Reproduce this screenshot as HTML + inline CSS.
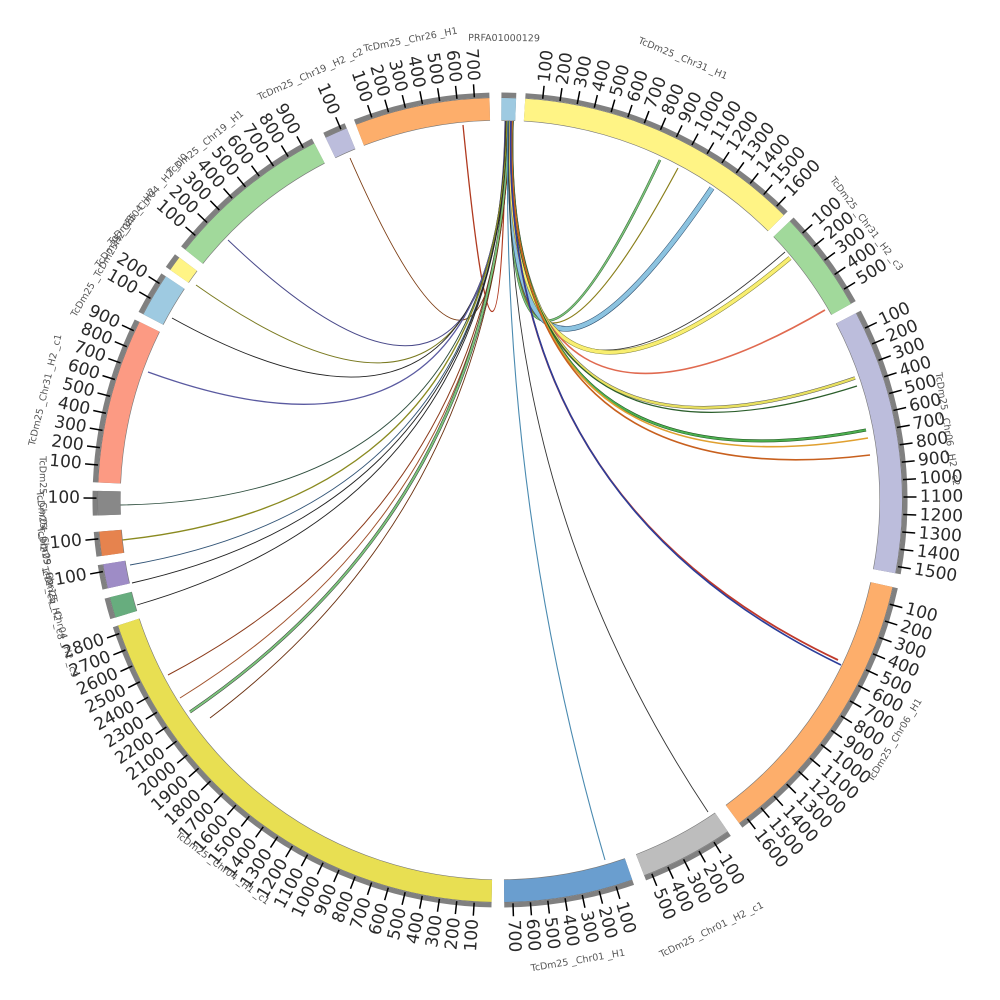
<!DOCTYPE html>
<html><head><meta charset="utf-8"><style>
html,body{margin:0;padding:0;background:#fff;width:1000px;height:1000px;overflow:hidden}
svg{display:block}
.t{font-family:"DejaVu Sans","Liberation Sans",sans-serif;font-size:17px;fill:#2a2a2a;dominant-baseline:central}
.r{text-anchor:start}.l{text-anchor:end}
.n{font-family:"DejaVu Sans","Liberation Sans",sans-serif;font-size:9.5px;fill:#555;text-anchor:middle}
.b{fill:none;stroke-width:22}
.o{fill:none;stroke:#777;stroke-width:23.2}
.g{fill:none;stroke:#808080;stroke-width:5}
.k{fill:none;stroke:#000;stroke-width:13}
.rb{fill:none}
</style></head><body>
<svg width="1000" height="1000" viewBox="0 0 1000 1000" xmlns="http://www.w3.org/2000/svg">
<rect width="1000" height="1000" fill="#fff"/>
<g class="rb" stroke-linecap="butt">
<path d="M506 121 Q500 500 463 125" stroke="#b03a20" stroke-width="1.3"/>
<path d="M505 121 Q500 500 350 158" stroke="#7a3a10" stroke-width="0.9"/>
<path d="M505 121 Q500 500 228 240" stroke="#4a4a8a" stroke-width="1"/>
<path d="M506 121 Q500 500 196 285" stroke="#7a7a20" stroke-width="1"/>
<path d="M506 121 Q500 500 172 318" stroke="#222" stroke-width="0.9"/>
<path d="M507 121 Q500 500 148 372" stroke="#5a5aa0" stroke-width="1.3"/>
<path d="M507 121 Q500 500 120 505" stroke="#2f4f3f" stroke-width="0.9"/>
<path d="M507 121 Q500 500 122 540" stroke="#8a8a20" stroke-width="1.3"/>
<path d="M508 121 Q500 500 130 565" stroke="#335577" stroke-width="0.9"/>
<path d="M508 121 Q500 500 132 583" stroke="#222" stroke-width="0.9"/>
<path d="M508 121 Q500 500 137 605" stroke="#222" stroke-width="0.9"/>
<path d="M509 121 Q500 500 168 675" stroke="#8b3a1a" stroke-width="1"/>
<path d="M509 121 Q500 500 180 698" stroke="#a0522d" stroke-width="1"/>
<path d="M509 121 Q500 500 190 712" stroke="#333" stroke-width="3"/>
<path d="M509 121 Q500 500 190 712" stroke="#7cc47c" stroke-width="2"/>
<path d="M510 121 Q500 500 210 718" stroke="#6b3010" stroke-width="0.9"/>
<path d="M510 121 Q500 500 660 160" stroke="#2e5e2e" stroke-width="2.6"/>
<path d="M510 121 Q500 500 660 160" stroke="#7cc47c" stroke-width="1.6"/>
<path d="M510 121 Q500 500 678 168" stroke="#8a7f1a" stroke-width="1.2"/>
<path d="M511 121 Q500 500 712 188" stroke="#2a4a6a" stroke-width="5.5"/>
<path d="M511 121 Q500 500 712 188" stroke="#8cc3e0" stroke-width="4.5"/>
<path d="M511 121 Q500 500 785 252" stroke="#333" stroke-width="0.9"/>
<path d="M511 121 Q500 500 790 258" stroke="#7a7a30" stroke-width="4.5"/>
<path d="M511 121 Q500 500 790 258" stroke="#f8ee70" stroke-width="3.5"/>
<path d="M512 121 Q500 500 825 310" stroke="#e06a50" stroke-width="1.6"/>
<path d="M512 121 Q500 500 855 378" stroke="#555" stroke-width="3.5"/>
<path d="M512 121 Q500 500 855 378" stroke="#e8e060" stroke-width="2.5"/>
<path d="M512 121 Q500 500 857 386" stroke="#2b5e2b" stroke-width="1.2"/>
<path d="M512 121 Q500 500 866 430" stroke="#1b4e1b" stroke-width="3"/>
<path d="M512 121 Q500 500 866 430" stroke="#4caf50" stroke-width="2"/>
<path d="M512 121 Q500 500 868 438" stroke="#e0a030" stroke-width="1.6"/>
<path d="M512 121 Q500 500 870 455" stroke="#c8601e" stroke-width="1.6"/>
<path d="M511 121 Q500 500 838 660" stroke="#c0392b" stroke-width="1.8"/>
<path d="M511 121 Q500 500 841 665" stroke="#2c3e9a" stroke-width="1.6"/>
<path d="M509 121 Q500 500 708 812" stroke="#333" stroke-width="0.9"/>
<path d="M508 121 Q500 500 605 860" stroke="#4a8ab0" stroke-width="1.1"/>
</g>
<g>
<circle class="o" cx="500" cy="500" r="391" transform="rotate(-89.8 500 500)" stroke-dasharray="14.33 3000"/>
<circle class="o" cx="500" cy="500" r="391" transform="rotate(-86.4 500 500)" stroke-dasharray="281.84 3000"/>
<circle class="o" cx="500" cy="500" r="391" transform="rotate(-43.9 500 500)" stroke-dasharray="100.32 3000"/>
<circle class="o" cx="500" cy="500" r="391" transform="rotate(-27.7 500 500)" stroke-dasharray="260.68 3000"/>
<circle class="o" cx="500" cy="500" r="391" transform="rotate(12.5 500 500)" stroke-dasharray="279.79 3000"/>
<circle class="o" cx="500" cy="500" r="391" transform="rotate(55.5 500 500)" stroke-dasharray="92.13 3000"/>
<circle class="o" cx="500" cy="500" r="391" transform="rotate(70.8 500 500)" stroke-dasharray="126.93 3000"/>
<circle class="o" cx="500" cy="500" r="391" transform="rotate(91.2 500 500)" stroke-dasharray="481.79 3000"/>
<circle class="o" cx="500" cy="500" r="391" transform="rotate(163 500 500)" stroke-dasharray="20.47 3000"/>
<circle class="o" cx="500" cy="500" r="391" transform="rotate(167.3 500 500)" stroke-dasharray="23.88 3000"/>
<circle class="o" cx="500" cy="500" r="391" transform="rotate(172 500 500)" stroke-dasharray="23.88 3000"/>
<circle class="o" cx="500" cy="500" r="391" transform="rotate(177.8 500 500)" stroke-dasharray="23.88 3000"/>
<circle class="o" cx="500" cy="500" r="391" transform="rotate(182.5 500 500)" stroke-dasharray="162.42 3000"/>
<circle class="o" cx="500" cy="500" r="391" transform="rotate(207.5 500 500)" stroke-dasharray="42.99 3000"/>
<circle class="o" cx="500" cy="500" r="391" transform="rotate(214.9 500 500)" stroke-dasharray="15.01 3000"/>
<circle class="o" cx="500" cy="500" r="391" transform="rotate(218.5 500 500)" stroke-dasharray="163.78 3000"/>
<circle class="o" cx="500" cy="500" r="391" transform="rotate(244.3 500 500)" stroke-dasharray="22.52 3000"/>
<circle class="o" cx="500" cy="500" r="391" transform="rotate(249 500 500)" stroke-dasharray="133.07 3000"/>
</g>
<g>
<circle class="b" stroke="#9ecae1" cx="500" cy="500" r="391" transform="rotate(-89.8 500 500)" stroke-dasharray="14.33 3000"/>
<circle class="b" stroke="#fff485" cx="500" cy="500" r="391" transform="rotate(-86.4 500 500)" stroke-dasharray="281.84 3000"/>
<circle class="b" stroke="#a1d99b" cx="500" cy="500" r="391" transform="rotate(-43.9 500 500)" stroke-dasharray="100.32 3000"/>
<circle class="b" stroke="#bcbddc" cx="500" cy="500" r="391" transform="rotate(-27.7 500 500)" stroke-dasharray="260.68 3000"/>
<circle class="b" stroke="#fdae6b" cx="500" cy="500" r="391" transform="rotate(12.5 500 500)" stroke-dasharray="279.79 3000"/>
<circle class="b" stroke="#bdbdbd" cx="500" cy="500" r="391" transform="rotate(55.5 500 500)" stroke-dasharray="92.13 3000"/>
<circle class="b" stroke="#6a9ecf" cx="500" cy="500" r="391" transform="rotate(70.8 500 500)" stroke-dasharray="126.93 3000"/>
<circle class="b" stroke="#e8df52" cx="500" cy="500" r="391" transform="rotate(91.2 500 500)" stroke-dasharray="481.79 3000"/>
<circle class="b" stroke="#67ad7e" cx="500" cy="500" r="391" transform="rotate(163 500 500)" stroke-dasharray="20.47 3000"/>
<circle class="b" stroke="#9e8cc6" cx="500" cy="500" r="391" transform="rotate(167.3 500 500)" stroke-dasharray="23.88 3000"/>
<circle class="b" stroke="#e6834e" cx="500" cy="500" r="391" transform="rotate(172 500 500)" stroke-dasharray="23.88 3000"/>
<circle class="b" stroke="#888888" cx="500" cy="500" r="391" transform="rotate(177.8 500 500)" stroke-dasharray="23.88 3000"/>
<circle class="b" stroke="#fc9a83" cx="500" cy="500" r="391" transform="rotate(182.5 500 500)" stroke-dasharray="162.42 3000"/>
<circle class="b" stroke="#9ecae1" cx="500" cy="500" r="391" transform="rotate(207.5 500 500)" stroke-dasharray="42.99 3000"/>
<circle class="b" stroke="#fff485" cx="500" cy="500" r="391" transform="rotate(214.9 500 500)" stroke-dasharray="15.01 3000"/>
<circle class="b" stroke="#a1d99b" cx="500" cy="500" r="391" transform="rotate(218.5 500 500)" stroke-dasharray="163.78 3000"/>
<circle class="b" stroke="#bcbddc" cx="500" cy="500" r="391" transform="rotate(244.3 500 500)" stroke-dasharray="22.52 3000"/>
<circle class="b" stroke="#fdae6b" cx="500" cy="500" r="391" transform="rotate(249 500 500)" stroke-dasharray="133.07 3000"/>
</g>
<g>
<circle class="g" cx="500" cy="500" r="405" transform="rotate(-89.8 500 500)" stroke-dasharray="14.84 3000"/>
<circle class="g" cx="500" cy="500" r="405" transform="rotate(-86.4 500 500)" stroke-dasharray="291.93 3000"/>
<circle class="g" cx="500" cy="500" r="405" transform="rotate(-43.9 500 500)" stroke-dasharray="103.91 3000"/>
<circle class="g" cx="500" cy="500" r="405" transform="rotate(-27.7 500 500)" stroke-dasharray="270.02 3000"/>
<circle class="g" cx="500" cy="500" r="405" transform="rotate(12.5 500 500)" stroke-dasharray="289.81 3000"/>
<circle class="g" cx="500" cy="500" r="405" transform="rotate(55.5 500 500)" stroke-dasharray="95.43 3000"/>
<circle class="g" cx="500" cy="500" r="405" transform="rotate(70.8 500 500)" stroke-dasharray="131.48 3000"/>
<circle class="g" cx="500" cy="500" r="405" transform="rotate(91.2 500 500)" stroke-dasharray="499.04 3000"/>
<circle class="g" cx="500" cy="500" r="405" transform="rotate(163 500 500)" stroke-dasharray="21.21 3000"/>
<circle class="g" cx="500" cy="500" r="405" transform="rotate(167.3 500 500)" stroke-dasharray="24.74 3000"/>
<circle class="g" cx="500" cy="500" r="405" transform="rotate(172 500 500)" stroke-dasharray="24.74 3000"/>
<circle class="g" cx="500" cy="500" r="405" transform="rotate(177.8 500 500)" stroke-dasharray="24.74 3000"/>
<circle class="g" cx="500" cy="500" r="405" transform="rotate(182.5 500 500)" stroke-dasharray="168.23 3000"/>
<circle class="g" cx="500" cy="500" r="405" transform="rotate(207.5 500 500)" stroke-dasharray="44.53 3000"/>
<circle class="g" cx="500" cy="500" r="405" transform="rotate(214.9 500 500)" stroke-dasharray="15.55 3000"/>
<circle class="g" cx="500" cy="500" r="405" transform="rotate(218.5 500 500)" stroke-dasharray="169.65 3000"/>
<circle class="g" cx="500" cy="500" r="405" transform="rotate(244.3 500 500)" stroke-dasharray="23.33 3000"/>
<circle class="g" cx="500" cy="500" r="405" transform="rotate(249 500 500)" stroke-dasharray="137.84 3000"/>
</g>
<g>
<circle class="k" cx="500" cy="500" r="410" transform="rotate(-84.03 500 500)" stroke-dasharray="1.5 16.25 1.5 16.25 1.5 16.25 1.5 16.25 1.5 16.25 1.5 16.25 1.5 16.25 1.5 16.25 1.5 16.25 1.5 16.25 1.5 16.25 1.5 16.25 1.5 16.25 1.5 16.25 1.5 16.25 1.5 3000"/>
<circle class="k" cx="500" cy="500" r="410" transform="rotate(-41.53 500 500)" stroke-dasharray="1.5 16.25 1.5 16.25 1.5 16.25 1.5 16.25 1.5 3000"/>
<circle class="k" cx="500" cy="500" r="410" transform="rotate(-25.33 500 500)" stroke-dasharray="1.5 16.25 1.5 16.25 1.5 16.25 1.5 16.25 1.5 16.25 1.5 16.25 1.5 16.25 1.5 16.25 1.5 16.25 1.5 16.25 1.5 16.25 1.5 16.25 1.5 16.25 1.5 16.25 1.5 3000"/>
<circle class="k" cx="500" cy="500" r="410" transform="rotate(14.87 500 500)" stroke-dasharray="1.5 16.25 1.5 16.25 1.5 16.25 1.5 16.25 1.5 16.25 1.5 16.25 1.5 16.25 1.5 16.25 1.5 16.25 1.5 16.25 1.5 16.25 1.5 16.25 1.5 16.25 1.5 16.25 1.5 16.25 1.5 3000"/>
<circle class="k" cx="500" cy="500" r="410" transform="rotate(57.87 500 500)" stroke-dasharray="1.5 16.25 1.5 16.25 1.5 16.25 1.5 16.25 1.5 3000"/>
<circle class="k" cx="500" cy="500" r="410" transform="rotate(73.17 500 500)" stroke-dasharray="1.5 16.25 1.5 16.25 1.5 16.25 1.5 16.25 1.5 16.25 1.5 16.25 1.5 3000"/>
<circle class="k" cx="500" cy="500" r="410" transform="rotate(93.57 500 500)" stroke-dasharray="1.5 16.25 1.5 16.25 1.5 16.25 1.5 16.25 1.5 16.25 1.5 16.25 1.5 16.25 1.5 16.25 1.5 16.25 1.5 16.25 1.5 16.25 1.5 16.25 1.5 16.25 1.5 16.25 1.5 16.25 1.5 16.25 1.5 16.25 1.5 16.25 1.5 16.25 1.5 16.25 1.5 16.25 1.5 16.25 1.5 16.25 1.5 16.25 1.5 16.25 1.5 16.25 1.5 16.25 1.5 3000"/>
<circle class="k" cx="500" cy="500" r="410" transform="rotate(169.67 500 500)" stroke-dasharray="1.5 3000"/>
<circle class="k" cx="500" cy="500" r="410" transform="rotate(174.37 500 500)" stroke-dasharray="1.5 3000"/>
<circle class="k" cx="500" cy="500" r="410" transform="rotate(180.17 500 500)" stroke-dasharray="1.5 3000"/>
<circle class="k" cx="500" cy="500" r="410" transform="rotate(184.87 500 500)" stroke-dasharray="1.5 16.25 1.5 16.25 1.5 16.25 1.5 16.25 1.5 16.25 1.5 16.25 1.5 16.25 1.5 16.25 1.5 3000"/>
<circle class="k" cx="500" cy="500" r="410" transform="rotate(209.87 500 500)" stroke-dasharray="1.5 16.25 1.5 3000"/>
<circle class="k" cx="500" cy="500" r="410" transform="rotate(220.87 500 500)" stroke-dasharray="1.5 16.25 1.5 16.25 1.5 16.25 1.5 16.25 1.5 16.25 1.5 16.25 1.5 16.25 1.5 16.25 1.5 3000"/>
<circle class="k" cx="500" cy="500" r="410" transform="rotate(246.67 500 500)" stroke-dasharray="1.5 3000"/>
<circle class="k" cx="500" cy="500" r="410" transform="rotate(251.37 500 500)" stroke-dasharray="1.5 16.25 1.5 16.25 1.5 16.25 1.5 16.25 1.5 16.25 1.5 16.25 1.5 3000"/>
</g>
<g class="t r">
<text transform="rotate(6.08 500 500) translate(500 80) rotate(-90)">100</text>
<text transform="rotate(8.56 500 500) translate(500 80) rotate(-90)">200</text>
<text transform="rotate(11.04 500 500) translate(500 80) rotate(-90)">300</text>
<text transform="rotate(13.52 500 500) translate(500 80) rotate(-90)">400</text>
<text transform="rotate(16.00 500 500) translate(500 80) rotate(-90)">500</text>
<text transform="rotate(18.48 500 500) translate(500 80) rotate(-90)">600</text>
<text transform="rotate(20.96 500 500) translate(500 80) rotate(-90)">700</text>
<text transform="rotate(23.44 500 500) translate(500 80) rotate(-90)">800</text>
<text transform="rotate(25.92 500 500) translate(500 80) rotate(-90)">900</text>
<text transform="rotate(28.40 500 500) translate(500 80) rotate(-90)">1000</text>
<text transform="rotate(30.88 500 500) translate(500 80) rotate(-90)">1100</text>
<text transform="rotate(33.36 500 500) translate(500 80) rotate(-90)">1200</text>
<text transform="rotate(35.84 500 500) translate(500 80) rotate(-90)">1300</text>
<text transform="rotate(38.32 500 500) translate(500 80) rotate(-90)">1400</text>
<text transform="rotate(40.80 500 500) translate(500 80) rotate(-90)">1500</text>
<text transform="rotate(43.28 500 500) translate(500 80) rotate(-90)">1600</text>
<text transform="rotate(48.58 500 500) translate(500 80) rotate(-90)">100</text>
<text transform="rotate(51.06 500 500) translate(500 80) rotate(-90)">200</text>
<text transform="rotate(53.54 500 500) translate(500 80) rotate(-90)">300</text>
<text transform="rotate(56.02 500 500) translate(500 80) rotate(-90)">400</text>
<text transform="rotate(58.50 500 500) translate(500 80) rotate(-90)">500</text>
<text transform="rotate(64.78 500 500) translate(500 80) rotate(-90)">100</text>
<text transform="rotate(67.26 500 500) translate(500 80) rotate(-90)">200</text>
<text transform="rotate(69.74 500 500) translate(500 80) rotate(-90)">300</text>
<text transform="rotate(72.22 500 500) translate(500 80) rotate(-90)">400</text>
<text transform="rotate(74.70 500 500) translate(500 80) rotate(-90)">500</text>
<text transform="rotate(77.18 500 500) translate(500 80) rotate(-90)">600</text>
<text transform="rotate(79.66 500 500) translate(500 80) rotate(-90)">700</text>
<text transform="rotate(82.14 500 500) translate(500 80) rotate(-90)">800</text>
<text transform="rotate(84.62 500 500) translate(500 80) rotate(-90)">900</text>
<text transform="rotate(87.10 500 500) translate(500 80) rotate(-90)">1000</text>
<text transform="rotate(89.58 500 500) translate(500 80) rotate(-90)">1100</text>
<text transform="rotate(92.06 500 500) translate(500 80) rotate(-90)">1200</text>
<text transform="rotate(94.54 500 500) translate(500 80) rotate(-90)">1300</text>
<text transform="rotate(97.02 500 500) translate(500 80) rotate(-90)">1400</text>
<text transform="rotate(99.50 500 500) translate(500 80) rotate(-90)">1500</text>
<text transform="rotate(104.98 500 500) translate(500 80) rotate(-90)">100</text>
<text transform="rotate(107.46 500 500) translate(500 80) rotate(-90)">200</text>
<text transform="rotate(109.94 500 500) translate(500 80) rotate(-90)">300</text>
<text transform="rotate(112.42 500 500) translate(500 80) rotate(-90)">400</text>
<text transform="rotate(114.90 500 500) translate(500 80) rotate(-90)">500</text>
<text transform="rotate(117.38 500 500) translate(500 80) rotate(-90)">600</text>
<text transform="rotate(119.86 500 500) translate(500 80) rotate(-90)">700</text>
<text transform="rotate(122.34 500 500) translate(500 80) rotate(-90)">800</text>
<text transform="rotate(124.82 500 500) translate(500 80) rotate(-90)">900</text>
<text transform="rotate(127.30 500 500) translate(500 80) rotate(-90)">1000</text>
<text transform="rotate(129.78 500 500) translate(500 80) rotate(-90)">1100</text>
<text transform="rotate(132.26 500 500) translate(500 80) rotate(-90)">1200</text>
<text transform="rotate(134.74 500 500) translate(500 80) rotate(-90)">1300</text>
<text transform="rotate(137.22 500 500) translate(500 80) rotate(-90)">1400</text>
<text transform="rotate(139.70 500 500) translate(500 80) rotate(-90)">1500</text>
<text transform="rotate(142.18 500 500) translate(500 80) rotate(-90)">1600</text>
<text transform="rotate(147.98 500 500) translate(500 80) rotate(-90)">100</text>
<text transform="rotate(150.46 500 500) translate(500 80) rotate(-90)">200</text>
<text transform="rotate(152.94 500 500) translate(500 80) rotate(-90)">300</text>
<text transform="rotate(155.42 500 500) translate(500 80) rotate(-90)">400</text>
<text transform="rotate(157.90 500 500) translate(500 80) rotate(-90)">500</text>
<text transform="rotate(163.28 500 500) translate(500 80) rotate(-90)">100</text>
<text transform="rotate(165.76 500 500) translate(500 80) rotate(-90)">200</text>
<text transform="rotate(168.24 500 500) translate(500 80) rotate(-90)">300</text>
<text transform="rotate(170.72 500 500) translate(500 80) rotate(-90)">400</text>
<text transform="rotate(173.20 500 500) translate(500 80) rotate(-90)">500</text>
<text transform="rotate(175.68 500 500) translate(500 80) rotate(-90)">600</text>
<text transform="rotate(178.16 500 500) translate(500 80) rotate(-90)">700</text>
</g>
<g class="t l">
<text transform="rotate(183.68 500 500) translate(500 80) rotate(90)">100</text>
<text transform="rotate(186.16 500 500) translate(500 80) rotate(90)">200</text>
<text transform="rotate(188.64 500 500) translate(500 80) rotate(90)">300</text>
<text transform="rotate(191.12 500 500) translate(500 80) rotate(90)">400</text>
<text transform="rotate(193.60 500 500) translate(500 80) rotate(90)">500</text>
<text transform="rotate(196.08 500 500) translate(500 80) rotate(90)">600</text>
<text transform="rotate(198.56 500 500) translate(500 80) rotate(90)">700</text>
<text transform="rotate(201.04 500 500) translate(500 80) rotate(90)">800</text>
<text transform="rotate(203.52 500 500) translate(500 80) rotate(90)">900</text>
<text transform="rotate(206.00 500 500) translate(500 80) rotate(90)">1000</text>
<text transform="rotate(208.48 500 500) translate(500 80) rotate(90)">1100</text>
<text transform="rotate(210.96 500 500) translate(500 80) rotate(90)">1200</text>
<text transform="rotate(213.44 500 500) translate(500 80) rotate(90)">1300</text>
<text transform="rotate(215.92 500 500) translate(500 80) rotate(90)">1400</text>
<text transform="rotate(218.40 500 500) translate(500 80) rotate(90)">1500</text>
<text transform="rotate(220.88 500 500) translate(500 80) rotate(90)">1600</text>
<text transform="rotate(223.36 500 500) translate(500 80) rotate(90)">1700</text>
<text transform="rotate(225.84 500 500) translate(500 80) rotate(90)">1800</text>
<text transform="rotate(228.32 500 500) translate(500 80) rotate(90)">1900</text>
<text transform="rotate(230.80 500 500) translate(500 80) rotate(90)">2000</text>
<text transform="rotate(233.28 500 500) translate(500 80) rotate(90)">2100</text>
<text transform="rotate(235.76 500 500) translate(500 80) rotate(90)">2200</text>
<text transform="rotate(238.24 500 500) translate(500 80) rotate(90)">2300</text>
<text transform="rotate(240.72 500 500) translate(500 80) rotate(90)">2400</text>
<text transform="rotate(243.20 500 500) translate(500 80) rotate(90)">2500</text>
<text transform="rotate(245.68 500 500) translate(500 80) rotate(90)">2600</text>
<text transform="rotate(248.16 500 500) translate(500 80) rotate(90)">2700</text>
<text transform="rotate(250.64 500 500) translate(500 80) rotate(90)">2800</text>
<text transform="rotate(259.78 500 500) translate(500 80) rotate(90)">100</text>
<text transform="rotate(264.48 500 500) translate(500 80) rotate(90)">100</text>
<text transform="rotate(270.28 500 500) translate(500 80) rotate(90)">100</text>
<text transform="rotate(274.98 500 500) translate(500 80) rotate(90)">100</text>
<text transform="rotate(277.46 500 500) translate(500 80) rotate(90)">200</text>
<text transform="rotate(279.94 500 500) translate(500 80) rotate(90)">300</text>
<text transform="rotate(282.42 500 500) translate(500 80) rotate(90)">400</text>
<text transform="rotate(284.90 500 500) translate(500 80) rotate(90)">500</text>
<text transform="rotate(287.38 500 500) translate(500 80) rotate(90)">600</text>
<text transform="rotate(289.86 500 500) translate(500 80) rotate(90)">700</text>
<text transform="rotate(292.34 500 500) translate(500 80) rotate(90)">800</text>
<text transform="rotate(294.82 500 500) translate(500 80) rotate(90)">900</text>
<text transform="rotate(299.98 500 500) translate(500 80) rotate(90)">100</text>
<text transform="rotate(302.46 500 500) translate(500 80) rotate(90)">200</text>
<text transform="rotate(310.98 500 500) translate(500 80) rotate(90)">100</text>
<text transform="rotate(313.46 500 500) translate(500 80) rotate(90)">200</text>
<text transform="rotate(315.94 500 500) translate(500 80) rotate(90)">300</text>
<text transform="rotate(318.42 500 500) translate(500 80) rotate(90)">400</text>
<text transform="rotate(320.90 500 500) translate(500 80) rotate(90)">500</text>
<text transform="rotate(323.38 500 500) translate(500 80) rotate(90)">600</text>
<text transform="rotate(325.86 500 500) translate(500 80) rotate(90)">700</text>
<text transform="rotate(328.34 500 500) translate(500 80) rotate(90)">800</text>
<text transform="rotate(330.82 500 500) translate(500 80) rotate(90)">900</text>
<text transform="rotate(336.78 500 500) translate(500 80) rotate(90)">100</text>
<text transform="rotate(341.48 500 500) translate(500 80) rotate(90)">100</text>
<text transform="rotate(343.96 500 500) translate(500 80) rotate(90)">200</text>
<text transform="rotate(346.44 500 500) translate(500 80) rotate(90)">300</text>
<text transform="rotate(348.92 500 500) translate(500 80) rotate(90)">400</text>
<text transform="rotate(351.40 500 500) translate(500 80) rotate(90)">500</text>
<text transform="rotate(353.88 500 500) translate(500 80) rotate(90)">600</text>
<text transform="rotate(356.36 500 500) translate(500 80) rotate(90)">700</text>
</g>
<g class="n">
<text transform="rotate(0.5 500 500)" x="500" y="41">PRFA01000129</text>
<text transform="rotate(22.5 500 500)" x="500" y="25">TcDm25 _Chr31 _H1</text>
<text transform="rotate(53 500 500)" x="500" y="44">TcDm25 _Chr31 _H2 _c3</text>
<text transform="rotate(81 500 500)" x="500" y="50">TcDm25 _Chr06 _H2 _c2</text>
<text transform="rotate(301.3 500 500)" x="500" y="965">TcDm25 _Chr06 _H1</text>
<text transform="rotate(333.8 500 500)" x="500" y="982">TcDm25 _Chr01 _H2 _c1</text>
<text transform="rotate(350.4 500 500)" x="500" y="970">TcDm25 _Chr01 _H1</text>
<text transform="rotate(37 500 500)" x="500" y="964">TcDm25 _Chr04 _H1 _c1</text>
<text transform="rotate(74.5 500 500)" x="500" y="960">TcDm25 _Chr04 _H2 _c9</text>
<text transform="rotate(79.5 500 500)" x="500" y="960">TcDm25 _Chr15 _H2 _c8</text>
<text transform="rotate(84 500 500)" x="500" y="960">TcDm25 _Chr09 _H2 _c4</text>
<text transform="rotate(89.5 500 500)" x="500" y="960">TcDm25 _Chr04 _H2</text>
<text transform="rotate(283.6 500 500)" x="500" y="35">TcDm25 _Chr31 _H2 _c1</text>
<text transform="rotate(300.5 500 500)" x="500" y="42">TcDm25 _TcDm25H2 _c3</text>
<text transform="rotate(306 500 500)" x="500" y="40">TcDm25 _Chr04 _H2</text>
<text transform="rotate(310.5 500 500)" x="500" y="40">TcDm25 _Chr04 _H2 _cl0</text>
<text transform="rotate(320.5 500 500)" x="500" y="40">TcDm25 _Chr19 _H1</text>
<text transform="rotate(336 500 500)" x="500" y="37">TcDm25 _Chr19 _H2 _c2</text>
<text transform="rotate(349 500 500)" x="500" y="34">TcDm25 _Chr26 _H1</text>
</g>
</svg>
</body></html>
